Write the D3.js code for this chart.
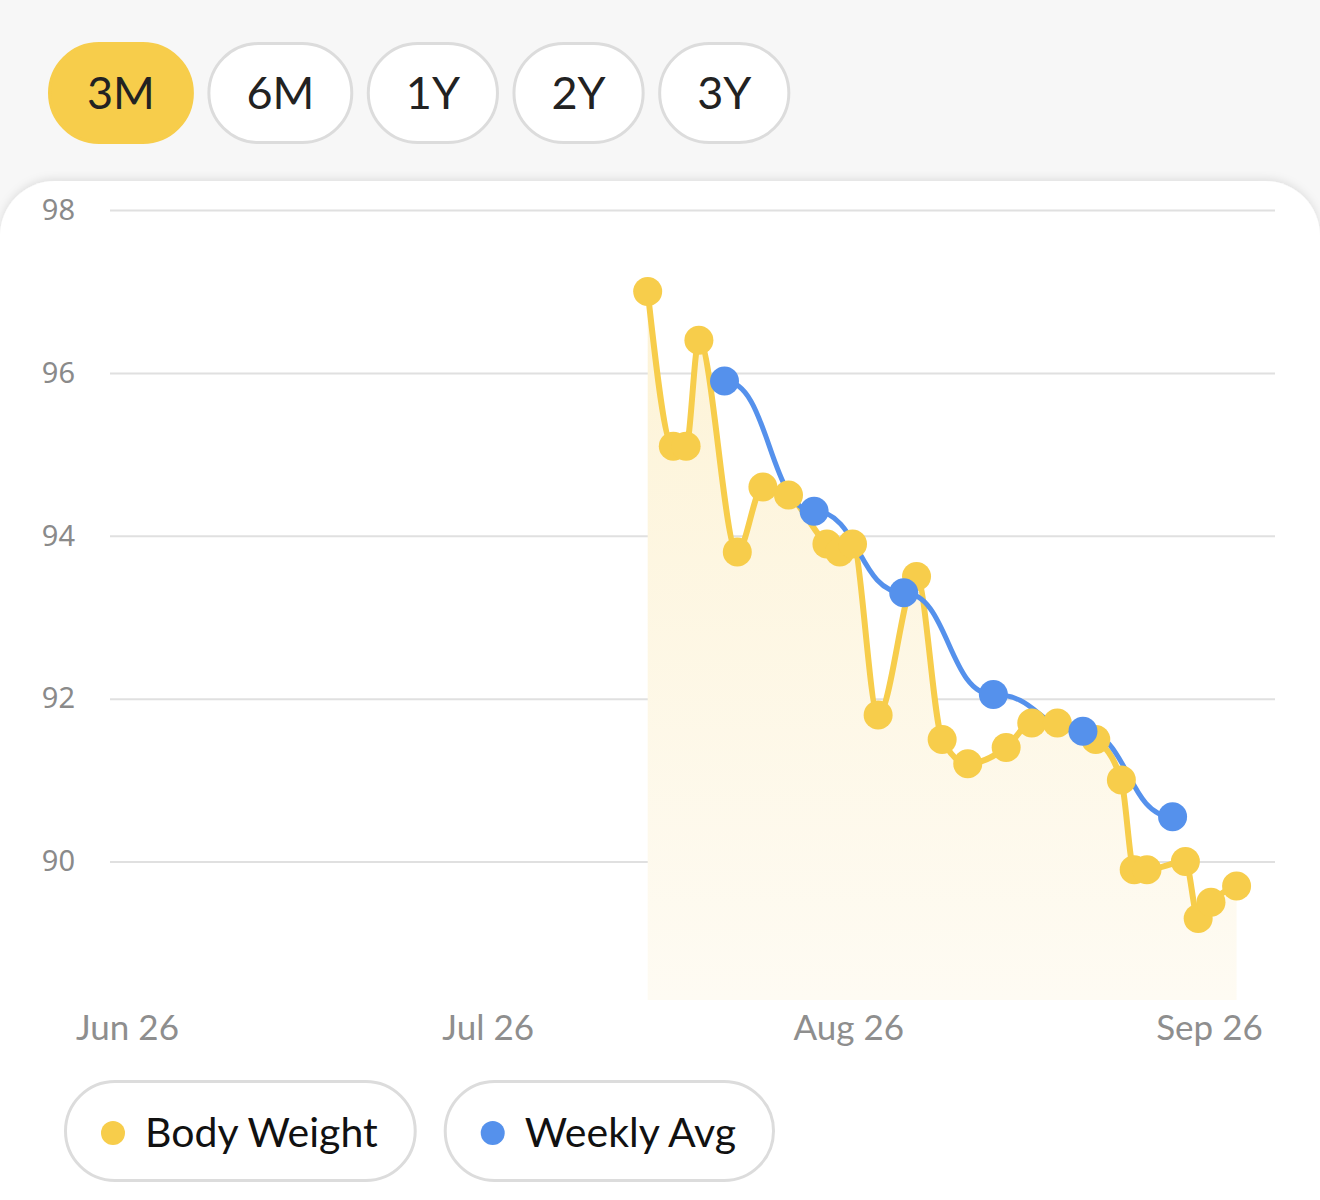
<!DOCTYPE html>
<html>
<head>
<meta charset="utf-8">
<script src="https://cdn.jsdelivr.net/npm/d3@7"></script>
<style>
  body { margin: 0; background: #f7f7f7; }
  svg { display: block; }
</style>
</head>
<body>
<div id="chart"></div>
<script>
// range buttons
var ranges = ["3M", "6M", "1Y", "2Y", "3Y"];
var activeRange = "3M";

// daily body weight
var weightDates = ["2023-08-07", "2023-08-09", "2023-08-10", "2023-08-11", "2023-08-14",
  "2023-08-16", "2023-08-18", "2023-08-21", "2023-08-22", "2023-08-23", "2023-08-25",
  "2023-08-28", "2023-08-30", "2023-09-01", "2023-09-04", "2023-09-06", "2023-09-08",
  "2023-09-11", "2023-09-13", "2023-09-14", "2023-09-15", "2023-09-18", "2023-09-19",
  "2023-09-20", "2023-09-22"];
var weightValues = [97.0, 95.1, 95.1, 96.4, 93.8, 94.6, 94.5, 93.9, 93.8, 93.9, 91.8,
  93.5, 91.5, 91.2, 91.4, 91.7, 91.7, 91.5, 91.0, 89.9, 89.9, 90.0, 89.3, 89.5, 89.7];

// weekly average
var avgDates = ["2023-08-13", "2023-08-20", "2023-08-27", "2023-09-03", "2023-09-10", "2023-09-17"];
var avgValues = [95.9, 94.3, 93.3, 92.05, 91.6, 90.55];

var yTicks = [98, 96, 94, 92, 90];
var xTickLabels = ["Jun 26", "Jul 26", "Aug 26", "Sep 26"];
var legendNames = ["Body Weight", "Weekly Avg"];

var yellow = "#f7cd4b", blue = "#5591ec";

var W = 1320, H = 1200;
var parse = d3.utcParse("%Y-%m-%d");

var weights = weightDates.map(function (d, i) { return {date: parse(d), value: weightValues[i]}; });
var avgs = avgDates.map(function (d, i) { return {date: parse(d), value: avgValues[i]}; });

var svg = d3.select("#chart").append("svg")
  .attr("width", W)
  .attr("height", H);

var defs = svg.append("defs");
var grad = defs.append("linearGradient")
  .attr("id", "areaFill")
  .attr("x1", 0).attr("y1", 0).attr("x2", 0).attr("y2", 1);
grad.append("stop").attr("offset", "0%").attr("stop-color", "#fdf3d6");
grad.append("stop").attr("offset", "100%").attr("stop-color", "#fefbf3");

var shadow = defs.append("filter").attr("id", "cardShadow")
  .attr("x", "-10%").attr("y", "-10%").attr("width", "120%").attr("height", "120%");
shadow.append("feDropShadow")
  .attr("dx", 0).attr("dy", -2).attr("stdDeviation", 4)
  .attr("flood-color", "#000").attr("flood-opacity", 0.10);

// background
svg.append("rect").attr("width", W).attr("height", H).attr("fill", "#f7f7f7");

// white card
svg.append("rect")
  .attr("x", 0).attr("y", 181)
  .attr("width", W).attr("height", H + 60)
  .attr("rx", 55)
  .attr("fill", "#fff")
  .attr("filter", "url(#cardShadow)");

// range buttons
var btnX = 48;
ranges.forEach(function (r) {
  var g = svg.append("g");
  var t = g.append("text")
    .attr("y", 93)
    .attr("dy", "0.35em")
    .attr("text-anchor", "middle")
    .style("font-family", "Lato, 'Noto Sans', sans-serif")
    .style("font-size", "45px")
    .attr("fill", "#222")
    .text(r);
  var w = t.node().getComputedTextLength() + 78;
  g.insert("rect", "text")
    .attr("x", btnX + 1.5).attr("y", 43.5)
    .attr("width", w - 3).attr("height", 99)
    .attr("rx", 49.5)
    .attr("fill", r === activeRange ? yellow : "#fff")
    .attr("stroke", r === activeRange ? yellow : "#dcdcdc")
    .attr("stroke-width", 3);
  t.attr("x", btnX + w / 2);
  btnX += w + 13.5;
});

// scales
var x = d3.scaleUtc()
  .domain([parse("2023-06-26"), parse("2023-09-25")])
  .range([110, 1275]);

var y = d3.scaleLinear()
  .domain([88.3, 98])
  .range([1000, 210]);

var xLabel = d3.scalePoint()
  .domain(xTickLabels)
  .range([127, 1209]);

// grid + y labels
var yAxis = svg.append("g")
  .call(d3.axisLeft(y).tickValues(yTicks).tickSize(0).tickPadding(0));
yAxis.select(".domain").remove();
yAxis.selectAll(".tick text")
  .attr("x", 75)
  .attr("text-anchor", "end")
  .style("font-family", "'Noto Sans', 'DejaVu Sans', sans-serif")
  .style("font-size", "29px")
  .attr("fill", "#8a8a8a");
yAxis.selectAll(".tick").append("line")
  .attr("x1", 110).attr("x2", 1275)
  .attr("stroke", "#e0e0e0")
  .attr("stroke-width", 2);

// x labels
var xAxis = svg.append("g")
  .attr("transform", "translate(0,1000)")
  .call(d3.axisBottom(xLabel).tickSize(0).tickPadding(0));
xAxis.select(".domain").remove();
xAxis.selectAll(".tick text")
  .attr("y", 28)
  .attr("dy", "0.35em")
  .style("font-family", "Lato, 'Noto Sans', sans-serif")
  .style("font-size", "35px")
  .attr("fill", "#8e8e8e");

// area under body weight
var area = d3.area()
  .x(function (d) { return x(d.date); })
  .y0(y(88.3))
  .y1(function (d) { return y(d.value); })
  .curve(d3.curveMonotoneX);

svg.append("path")
  .datum(weights)
  .attr("d", area)
  .attr("fill", "url(#areaFill)");

var line = d3.line()
  .x(function (d) { return x(d.date); })
  .y(function (d) { return y(d.value); })
  .curve(d3.curveMonotoneX);

var avgLine = d3.line()
  .x(function (d) { return x(d.date); })
  .y(function (d) { return y(d.value); })
  .curve(d3.curveBumpX);

svg.append("path")
  .datum(weights)
  .attr("d", line)
  .attr("fill", "none")
  .attr("stroke", yellow)
  .attr("stroke-width", 6);

svg.append("path")
  .datum(avgs)
  .attr("d", avgLine)
  .attr("fill", "none")
  .attr("stroke", blue)
  .attr("stroke-width", 5);

svg.append("g")
  .selectAll("circle")
  .data(weights)
  .enter()
  .append("circle")
    .attr("cx", function (d) { return x(d.date); })
    .attr("cy", function (d) { return y(d.value); })
    .attr("r", 14.5)
    .attr("fill", yellow);

svg.append("g")
  .selectAll("circle")
  .data(avgs)
  .enter()
  .append("circle")
    .attr("cx", function (d) { return x(d.date); })
    .attr("cy", function (d) { return y(d.value); })
    .attr("r", 14.5)
    .attr("fill", blue);

// legend
var legX = 64;
var legColors = [yellow, blue];
legendNames.forEach(function (name, i) {
  var g = svg.append("g");
  var t = g.append("text")
    .attr("y", 1133)
    .attr("dy", "0.35em")
    .style("font-family", "Lato, 'Noto Sans', sans-serif")
    .style("font-size", "41px")
    .attr("fill", "#111")
    .text(name);
  var tw = t.node().getComputedTextLength();
  var w = tw + 81 + 39;
  g.insert("rect", "text")
    .attr("x", legX + 1.5).attr("y", 1081.5)
    .attr("width", w - 3).attr("height", 99)
    .attr("rx", 49.5)
    .attr("fill", "#fff")
    .attr("stroke", "#dcdcdc")
    .attr("stroke-width", 3);
  g.append("circle")
    .attr("cx", legX + 49).attr("cy", 1133)
    .attr("r", 12)
    .attr("fill", legColors[i]);
  t.attr("x", legX + 81);
  legX += w + 27;
});
</script>
</body>
</html>
